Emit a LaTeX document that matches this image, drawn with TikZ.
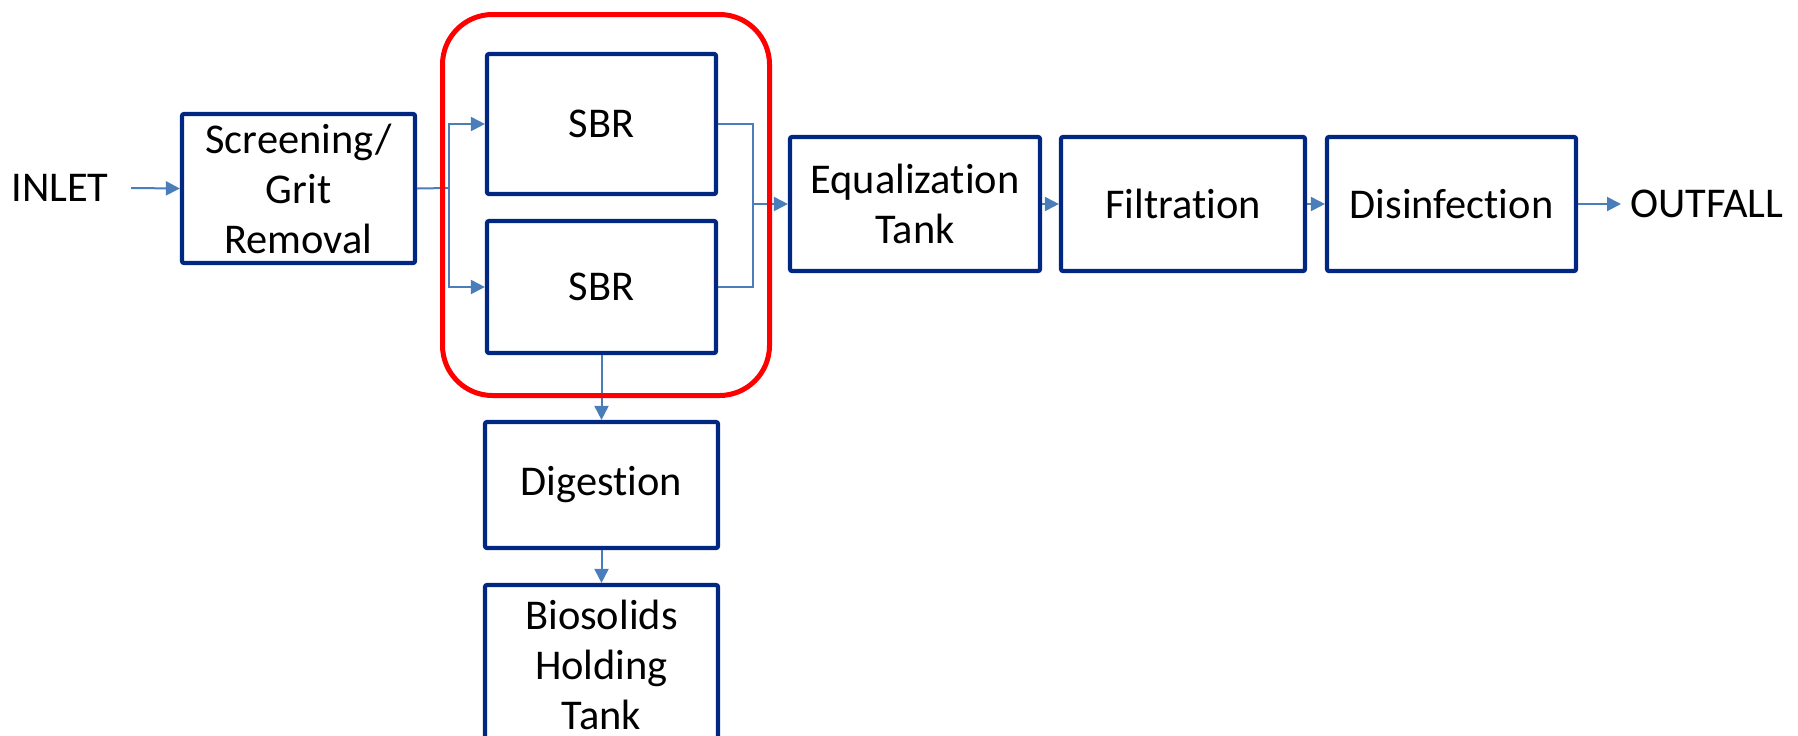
\documentclass[tikz,border=0pt]{standalone}
\usepackage{fontspec}
\setmainfont[Ligatures=NoCommon]{Carlito}
\usetikzlibrary{arrows.meta}
\definecolor{boxblue}{RGB}{0,40,130}
\definecolor{arrblue}{RGB}{74,126,187}
\begin{document}
\begin{tikzpicture}[x=0.5pt,y=-0.5pt,
  box/.style={draw=boxblue, line width=2.1pt, rounded corners=1pt, align=center,
    font=\fontsize{21.2}{25}\selectfont, inner sep=0pt},
  lbl/.style={font=\fontsize{21.2}{25}\selectfont, inner sep=0pt},
  flow/.style={draw=arrblue, line width=1pt, -{Triangle[length=7pt,width=7pt]}},
  link/.style={draw=arrblue, line width=1pt},
  grpbox/.style={draw=red, line width=2.5pt, rounded corners=25pt, inner sep=0pt}]
\useasboundingbox (0,0) rectangle (1798,735);

\node[lbl] (inlet) at (60,188) {INLET};
\node[box, minimum width=116.5pt, minimum height=74.5pt] (scr) at (298.5,188.5) {Screening/\\Grit\\Removal};
\node[box, minimum width=114.5pt, minimum height=70pt] (sbr1) at (601.5,124) {SBR};
\node[box, minimum width=114.5pt, minimum height=66pt] (sbr2) at (601.5,287) {SBR};
\node[box, minimum width=125pt, minimum height=67pt] (eq) at (915,204) {Equalization\\Tank};
\node[box, minimum width=122pt, minimum height=67pt] (filt) at (1183,204) {Filtration};
\node[box, minimum width=124.5pt, minimum height=67pt] (dis) at (1451.5,204) {Disinfection};
\node[lbl] (outfall) at (1707,204) {OUTFALL};
\node[box, minimum width=116.5pt, minimum height=63pt] (dig) at (601.5,485) {Digestion};
\node[box, minimum width=116.5pt, minimum height=80pt] (bio) at (601.5,665) {Biosolids\\Holding\\Tank};

\coordinate (split) at (449,188);
\coordinate (merge) at (753,204);

\draw[flow] ([xshift=11pt]inlet.east) -- (scr.west);
\draw[link] (scr.east) -- (split);
\draw[flow] (split) |- (sbr1.west);
\draw[flow] (split) |- (sbr2.west);
\draw[link] (sbr1.east) -| (merge) |- (sbr2.east);
\draw[flow] (merge) -- (eq.west);
\draw[flow] (eq.east) -- (filt.west);
\draw[flow] (filt.east) -- (dis.west);
\draw[flow] (dis.east) -- ([xshift=-4.5pt]outfall.west);
\draw[flow] (sbr2.south) -- (dig.north);
\draw[flow] (dig.south) -- (bio.north);

\node[grpbox, minimum width=163.5pt, minimum height=190.5pt] (grp) at (606,205) {};
\end{tikzpicture}
\end{document}
